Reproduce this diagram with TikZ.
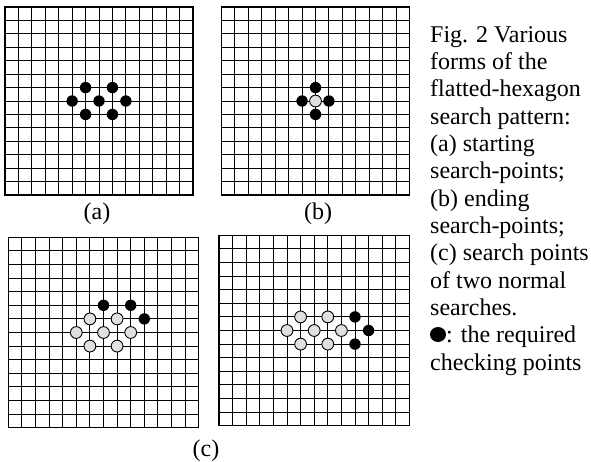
\documentclass[tikz,border=0pt]{standalone}
\usepackage{fontspec}
\setmainfont{Liberation Serif}
\newcommand{\drawboard}[3]{%
  \foreach \i in {0,...,14}{
    \draw[gridline] ({#1+\i*#3},{#2}) -- ({#1+\i*#3},{#2+14*#3});
    \draw[gridline] ({#1},{#2+\i*#3}) -- ({#1+14*#3},{#2+\i*#3});
  }
  \draw[frameline] (#1,#2) rectangle ({#1+14*#3},{#2+14*#3});
}
\newcommand{\blk}[5]{\fill[blackpt] ({#1+#4*#3},{#2+#5*#3}) circle[radius=5.7pt];}
\newcommand{\gry}[5]{\filldraw[graypt] ({#1+#4*#3},{#2+#5*#3}) circle[radius=5.9pt];}
\begin{document}
\begin{tikzpicture}[x=1pt,y=-1pt,
  gridline/.style={line width=1pt,black},
  frameline/.style={line width=1.3pt,black},
  blackpt/.style={fill=black},
  graypt/.style={fill=black!12,draw=black,line width=0.9pt},
  captext/.style={anchor=base west,inner sep=0pt,font=\fontsize{24}{27}\selectfont},
  sublabel/.style={anchor=base,inner sep=0pt,font=\fontsize{24}{27}\selectfont}]
\useasboundingbox (0,0) rectangle (591,461);
\fill[white] (0,0) rectangle (591,461);

% (a)
\drawboard{5}{7}{13.43}
\foreach \p/\q in {6/6,8/6,5/7,7/7,9/7,6/8,8/8}{\blk{5}{7}{13.43}{\p}{\q}}
% (b)
\drawboard{221.5}{7}{13.43}
\foreach \p/\q in {7/6,6/7,8/7,7/8}{\blk{221.5}{7}{13.43}{\p}{\q}}
\gry{221.5}{7}{13.43}{7}{7}
% (c) left
\drawboard{8.3}{237.3}{13.6}
\foreach \p/\q in {6/6,8/6,5/7,7/7,9/7,6/8,8/8}{\gry{8.3}{237.3}{13.6}{\p}{\q}}
\foreach \p/\q in {7/5,9/5,10/6}{\blk{8.3}{237.3}{13.6}{\p}{\q}}
% (c) right
\drawboard{219}{235.3}{13.6}
\foreach \p/\q in {6/6,8/6,5/7,7/7,9/7,6/8,8/8}{\gry{219}{235.3}{13.6}{\p}{\q}}
\foreach \p/\q in {10/6,11/7,10/8}{\blk{219}{235.3}{13.6}{\p}{\q}}

\node[sublabel] (la) at (97,219) {(a)};
\node[sublabel] (lb) at (318,219) {(b)};
\node[sublabel] (lc) at (206,456) {(c)};

\node[captext] (c1) at (430,42) {Fig. 2 Various};
\node[captext] (c2) at (430,69.3) {forms of the};
\node[captext] (c3) at (430,96.7) {flatted-hexagon};
\node[captext] (c4) at (430,124) {search pattern:};
\node[captext] (c5) at (430,151.3) {(a) starting};
\node[captext] (c6) at (430,178.7) {search-points;};
\node[captext] (c7) at (430,206) {(b) ending};
\node[captext] (c8) at (430,233.3) {search-points;};
\node[captext] (c9) at (430,260.7) {(c) search points};
\node[captext] (c10) at (430,288) {of two normal};
\node[captext] (c11) at (430,315.3) {searches.};
\fill[blackpt] (438,334.5) ellipse[x radius=8pt,y radius=7.5pt];
\node[captext] (c12) at (446,342.7) {: the required};
\node[captext] (c13) at (430,370) {checking points};
\end{tikzpicture}
\end{document}
